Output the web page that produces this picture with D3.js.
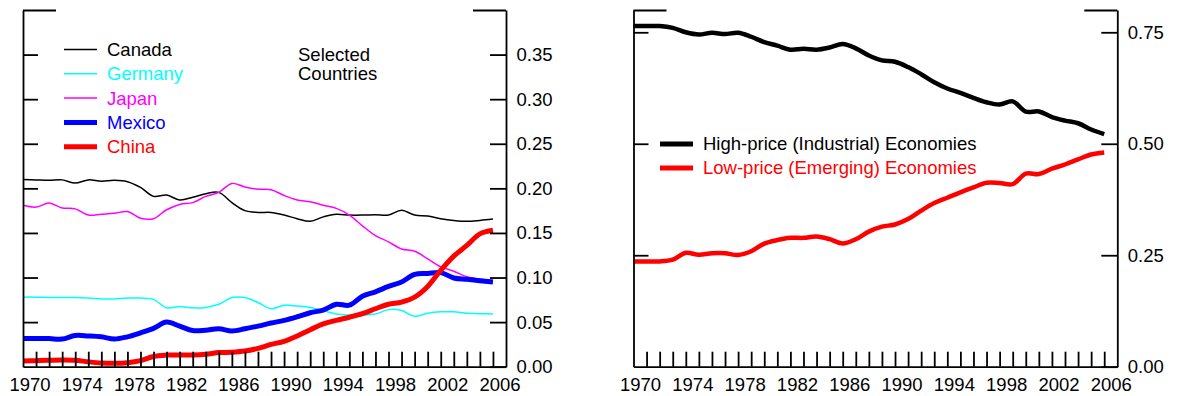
<!DOCTYPE html>
<html>
<head>
<meta charset="utf-8">
<script src="https://cdn.jsdelivr.net/npm/d3@7"></script>
<style>
  html, body { margin: 0; padding: 0; background: #fff; }
  svg { display: block; font-family: "Liberation Sans", Arial, Helvetica, sans-serif; }
</style>
</head>
<body>
<svg id="chart" width="1178" height="396"></svg>
<script>
// Annual observations, 1970-2006
const years = d3.range(1970, 2007);

// Selected countries (left panel)
const canada  = [0.210,0.2095,0.209,0.2095,0.206,0.2095,0.208,0.209,0.2075,0.201,
                 0.191,0.1925,0.187,0.190,0.194,0.1955,0.184,0.175,0.173,0.173,
                 0.170,0.166,0.163,0.168,0.171,0.170,0.170,0.1705,0.170,0.1755,
                 0.170,0.169,0.166,0.164,0.163,0.164,0.1655];
const germany = [0.078,0.078,0.0775,0.0775,0.0775,0.077,0.076,0.076,0.077,0.077,
                 0.0755,0.066,0.0675,0.066,0.0665,0.070,0.0775,0.0775,0.072,0.065,
                 0.069,0.068,0.0665,0.063,0.059,0.058,0.058,0.059,0.064,0.063,
                 0.0565,0.060,0.0615,0.0615,0.060,0.0595,0.059];
const japan   = [0.181,0.179,0.1835,0.178,0.177,0.170,0.171,0.172,0.174,0.1665,
                 0.166,0.176,0.182,0.184,0.191,0.1955,0.2055,0.2015,0.199,0.1985,
                 0.192,0.187,0.185,0.181,0.1775,0.170,0.158,0.147,0.140,0.132,
                 0.1295,0.121,0.112,0.107,0.101,0.098,0.0966];
const mexico  = [0.0315,0.0315,0.0315,0.031,0.035,0.0345,0.0335,0.031,0.0335,0.038,
                 0.043,0.050,0.0455,0.0405,0.041,0.0425,0.040,0.0425,0.0455,0.049,
                 0.052,0.056,0.0605,0.0635,0.070,0.069,0.079,0.084,0.090,0.095,
                 0.1035,0.1045,0.1055,0.0995,0.098,0.0965,0.095];
const china   = [0.0065,0.0068,0.0072,0.0075,0.0072,0.0055,0.0042,0.0038,0.0045,0.0068,
                 0.0115,0.013,0.0132,0.0132,0.014,0.0158,0.0162,0.0175,0.0205,0.025,
                 0.0285,0.0345,0.0415,0.048,0.052,0.0555,0.0595,0.065,0.070,0.0725,
                 0.078,0.090,0.108,0.124,0.136,0.149,0.153];

// Economy groups (right panel)
const highPrice = [0.764,0.764,0.764,0.760,0.750,0.745,0.749,0.746,0.749,0.740,
                   0.728,0.720,0.711,0.713,0.711,0.716,0.724,0.714,0.698,0.687,
                   0.684,0.672,0.656,0.638,0.624,0.614,0.603,0.593,0.588,0.595,
                   0.572,0.5725,0.560,0.552,0.546,0.532,0.5215];
const lowPrice  = [0.236,0.236,0.236,0.240,0.2555,0.251,0.2545,0.2545,0.2505,0.259,
                   0.276,0.284,0.289,0.289,0.292,0.286,0.2765,0.286,0.303,0.314,
                   0.319,0.331,0.350,0.367,0.379,0.391,0.402,0.4125,0.412,0.4095,
                   0.433,0.432,0.444,0.4535,0.465,0.476,0.4805];

// Axis labels and tick values
const yearLabels = [1970,1974,1978,1982,1986,1990,1994,1998,2002,2006];
const leftTicks  = [0.00,0.05,0.10,0.15,0.20,0.25,0.30,0.35];
const rightTicks = [0.00,0.25,0.50,0.75];

const leftSeries = [
  {name: "Canada",  values: canada,  color: "#000000", width: 1.5},
  {name: "Germany", values: germany, color: "#00ffff", width: 1.5},
  {name: "Japan",   values: japan,   color: "#ff00ff", width: 1.5},
  {name: "Mexico",  values: mexico,  color: "#0000ff", width: 5},
  {name: "China",   values: china,   color: "#ff0000", width: 5}
];
const rightSeries = [
  {name: "High-price (Industrial) Economies", values: highPrice, color: "#000000", width: 4.5},
  {name: "Low-price (Emerging) Economies",    values: lowPrice,  color: "#ff0000", width: 4.5}
];

const FONT = "18.5px";
const AXIS_W = 1.8;
const svg = d3.select("#chart");

function styleAxis(g) {
  g.attr("font-size", null).attr("font-family", null);
  g.selectAll("path.domain").attr("stroke", "#000").attr("stroke-width", AXIS_W);
  g.selectAll(".tick line").attr("stroke", "#000").attr("stroke-width", AXIS_W);
  g.selectAll(".tick text").attr("fill", "#000").style("font-size", FONT);
}

function drawPanel(opt) {
  const top = 10, bottom = 366.7;
  const x = d3.scaleLinear().domain([1970, 2007]).range([opt.x0, opt.x1]);
  const y = d3.scaleLinear().domain([0, opt.yMax]).range([bottom, top]);
  const g = svg.append("g");

  // series lines
  const line = d3.line()
    .x((d, i) => x(years[i]))
    .y(d => y(d))
    .curve(d3.curveCatmullRom.alpha(0.5));
  opt.series.forEach(s => {
    g.append("path")
      .datum(s.values)
      .attr("fill", "none")
      .attr("stroke", s.color)
      .attr("stroke-width", s.width)
      .attr("stroke-linejoin", "round")
      .attr("d", line);
  });

  const inner = opt.ticks.filter(d => d > 0);

  // bottom axis: a tick at the start of each year, labels centred in the year
  g.append("g").attr("transform", `translate(0,${bottom})`)
    .call(d3.axisBottom(x).tickValues(d3.range(1971, 2007)).tickSize(-15).tickSizeOuter(0).tickFormat(""))
    .call(styleAxis);
  g.append("g").attr("transform", `translate(0,${bottom})`)
    .call(d3.axisBottom(x).tickValues(yearLabels.map(d => d + 0.5)).tickSize(0).tickPadding(11)
      .tickFormat(d => String(Math.floor(d))))
    .call(styleAxis)
    .call(a => a.select(".domain").remove());

  // left axis (ticks only)
  g.append("g").attr("transform", `translate(${opt.x0},0)`)
    .call(d3.axisLeft(y).tickValues(inner).tickSize(-15).tickSizeOuter(0).tickFormat(""))
    .call(styleAxis);
  g.append("g").attr("transform", `translate(${opt.x0},0)`)
    .call(d3.axisLeft(y).tickValues([opt.yMax]).tickSize(-33).tickSizeOuter(0).tickFormat(""))
    .call(styleAxis)
    .call(a => a.select(".domain").remove());

  // right axis with value labels
  g.append("g").attr("transform", `translate(${opt.x1},0)`)
    .call(d3.axisRight(y).tickValues(opt.ticks).tickSize(-16).tickSizeOuter(0).tickPadding(10.5)
      .tickFormat(d3.format(".2f")))
    .call(styleAxis);
  g.append("g").attr("transform", `translate(${opt.x1},0)`)
    .call(d3.axisRight(y).tickValues([opt.yMax]).tickSize(-33).tickSizeOuter(0).tickFormat(""))
    .call(styleAxis)
    .call(a => a.select(".domain").remove());

  // legend
  const lg = g.append("g");
  opt.series.forEach((s, i) => {
    const ly = opt.legend.y + i * opt.legend.step;
    lg.append("line")
      .attr("x1", opt.legend.x).attr("x2", opt.legend.x + opt.legend.len)
      .attr("y1", ly).attr("y2", ly)
      .attr("stroke", s.color).attr("stroke-width", opt.legend.width ? opt.legend.width : s.width);
    lg.append("text")
      .attr("x", opt.legend.x + opt.legend.len + 10).attr("y", ly).attr("dy", "0.35em")
      .attr("fill", s.color).style("font-size", FONT)
      .text(s.name);
  });
  return g;
}

const left = drawPanel({
  x0: 23, x1: 506, yMax: 0.40, ticks: leftTicks, series: leftSeries,
  legend: {x: 64, y: 49.5, step: 24.3, len: 33}
});
left.append("text")
  .attr("x", 298).attr("y", 60.5)
  .attr("fill", "#000").style("font-size", FONT)
  .selectAll("tspan").data(["Selected", "Countries"]).join("tspan")
  .attr("x", 298).attr("dy", (d, i) => i === 0 ? 0 : 19.5)
  .text(d => d);

drawPanel({
  x0: 633.5, x1: 1117.3, yMax: 0.80, ticks: rightTicks, series: rightSeries,
  legend: {x: 660, y: 144, step: 24, len: 33, width: 5}
});
</script>
</body>
</html>
